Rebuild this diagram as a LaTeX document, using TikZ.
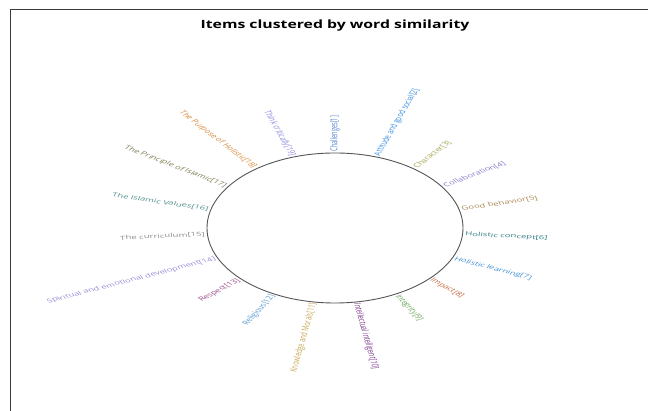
\documentclass[tikz,border=0pt]{standalone}
\usepackage{fontspec}
\setmainfont{Open Sans}
\usepackage{tikz}
\definecolor{framegrey}{HTML}{3A3A3A}
\definecolor{ringgrey}{HTML}{555555}
\definecolor{itemblue}{HTML}{4F7FD0}
\definecolor{skyblue}{HTML}{3E8EDE}
\definecolor{olivegreen}{HTML}{A3A552}
\definecolor{lavender}{HTML}{8878C8}
\definecolor{tanbrown}{HTML}{A88550}
\definecolor{tealdark}{HTML}{2E7F86}
\definecolor{oceanblue}{HTML}{3F8FD8}
\definecolor{rustred}{HTML}{C3643A}
\definecolor{leafgreen}{HTML}{6AA55A}
\definecolor{plumpurple}{HTML}{7E3A8E}
\definecolor{sandgold}{HTML}{C8A857}
\definecolor{paleblue}{HTML}{5597D0}
\definecolor{mauve}{HTML}{9A4A8A}
\definecolor{lilac}{HTML}{9A8AD8}
\definecolor{midgrey}{HTML}{8A8A8A}
\definecolor{slateteal}{HTML}{4E8C8C}
\definecolor{khaki}{HTML}{7C7A4E}
\definecolor{amber}{HTML}{D88A3A}
\definecolor{periwinkle}{HTML}{8A86E0}

\begin{document}
\begin{tikzpicture}[x=1pt, y=1pt, item/.style={font=\fontsize{9.6}{11}\selectfont, inner sep=1pt}]
  \useasboundingbox (0,0) rectangle (648,411);
  \draw[framegrey, line width=1.3pt] (10.5,0) -- (10.5,401.5) -- (648,401.5);
  \node[font=\fontsize{15.8}{18}\selectfont\bfseries, yscale=0.72] (title) at (335,385) {Items clustered by word similarity};
  % the whole ring is squashed flat, labels included
  \begin{scope}[shift={(335,183)}, yscale=0.586, transform shape]
  \coordinate (c) at (0,0);
  \draw[ringgrey, line width=0.9pt] (c) circle [radius=128pt];
  % right half, text reads outward
  \node[item, anchor=west, rotate=90, text=itemblue] (i1) at (90:129.5pt) {Challenges[1]};
  \node[item, anchor=west, rotate=71.05, text=skyblue] (i2) at (71.05:129.5pt) {Attitude and good social[2]};
  \node[item, anchor=west, rotate=52.11, text=olivegreen] (i3) at (52.11:129.5pt) {Character[3]};
  \node[item, anchor=west, rotate=33.16, text=lavender] (i4) at (33.16:129.5pt) {Collaboration[4]};
  \node[item, anchor=west, rotate=14.21, text=tanbrown] (i5) at (14.21:129.5pt) {Good behavior[5]};
  \node[item, anchor=west, rotate=-4.74, text=tealdark] (i6) at (-4.74:129.5pt) {Holistic concept[6]};
  \node[item, anchor=west, rotate=-23.68, text=oceanblue] (i7) at (-23.68:129.5pt) {Holistic learning[7]};
  \node[item, anchor=west, rotate=-42.63, text=rustred] (i8) at (-42.63:129.5pt) {Impact[8]};
  \node[item, anchor=west, rotate=-61.58, text=leafgreen] (i9) at (-61.58:129.5pt) {Integrity[9]};
  \node[item, anchor=west, rotate=-80.53, text=plumpurple] (i10) at (-80.53:129.5pt) {Intellectual intelligent[10]};
  % left half, text turned to read left to right
  \node[item, anchor=east, rotate=80.53, text=sandgold] (i11) at (-99.47:129.5pt) {Knowledge and Morals[11]};
  \node[item, anchor=east, rotate=61.58, text=paleblue] (i12) at (-118.42:129.5pt) {Religious[12]};
  \node[item, anchor=east, rotate=42.63, text=mauve] (i13) at (-137.37:129.5pt) {Respect[13]};
  \node[item, anchor=east, rotate=23.68, text=lilac] (i14) at (-156.32:129.5pt) {Spiritual and emotional development[14]};
  \node[item, anchor=east, rotate=4.74, text=midgrey] (i15) at (-175.26:129.5pt) {The curriculum[15]};
  \node[item, anchor=east, rotate=-14.21, text=slateteal] (i16) at (165.79:129.5pt) {The Islamic Values[16]};
  \node[item, anchor=east, rotate=-33.16, text=khaki] (i17) at (146.84:129.5pt) {The Principle of Islamic[17]};
  \node[item, anchor=east, rotate=-52.11, text=amber] (i18) at (127.89:129.5pt) {The Purpose of Holistic[18]};
  \node[item, anchor=east, rotate=-71.05, text=periwinkle] (i19) at (108.95:129.5pt) {Think critically[19]};
  \end{scope}
\end{tikzpicture}
\end{document}
